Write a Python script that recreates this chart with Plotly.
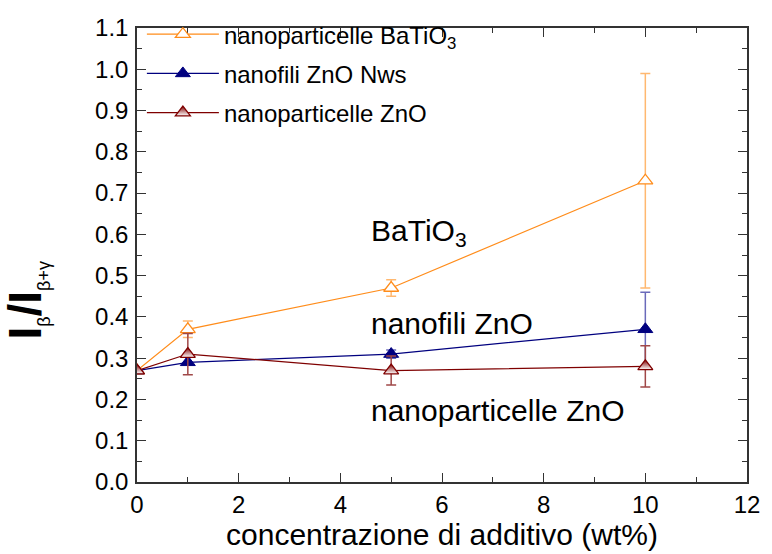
import plotly.graph_objects as go

# additive concentration (wt%)
conc = [0, 1, 5, 10]

# I_beta / I_(beta+gamma) for each filler, with error bars
batio3 = [0.27, 0.37, 0.47, 0.73]
batio3_err = [0.0, 0.02, 0.02, 0.26]

zno_nw = [0.27, 0.29, 0.31, 0.37]
zno_nw_err = [0.0, 0.0, 0.01, 0.09]

zno_np = [0.27, 0.31, 0.27, 0.28]
zno_np_err = [0.0, 0.05, 0.035, 0.05]

names = ["nanoparticelle BaTiO<sub>3</sub>", "nanofili ZnO Nws", "nanoparticelle ZnO"]

FONT = "Arial, Liberation Sans, sans-serif"

fig = go.Figure()

fig.add_trace(go.Scatter(
    x=conc, y=batio3, name=names[0], mode="lines+markers", legendgroup="a",
    line=dict(color="#FF8C1A", width=1.2),
    marker=dict(symbol="triangle-up", size=13, color="white",
                line=dict(color="#FF8C1A", width=1.3)),
    error_y=dict(type="data", array=batio3_err, color="#FFB870",
                 thickness=1.5, width=5),
))
fig.add_trace(go.Scatter(
    x=conc, y=zno_nw, name=names[1], mode="lines+markers", legendgroup="b",
    line=dict(color="#00007F", width=1.2),
    marker=dict(symbol="triangle-up", size=13, color="#00007F",
                line=dict(color="#00007F", width=1.0)),
    error_y=dict(type="data", array=zno_nw_err, color="#6A6ABA",
                 thickness=1.5, width=5),
))
fig.add_trace(go.Scatter(
    x=conc, y=zno_np, name=names[2], mode="lines+markers", legendgroup="c",
    line=dict(color="#7F0000", width=1.2),
    marker=dict(symbol="triangle-up", size=13, color="#7F0000",
                gradient=dict(type="vertical", color="white"),
                line=dict(color="#7F0000", width=1.3)),
    error_y=dict(type="data", array=zno_np_err, color="#A04848",
                 thickness=1.5, width=5),
))

# curve labels inside the plot
labels = [
    (4.57, 0.605, "BaTiO<sub>3</sub>"),
    (4.57, 0.385, "nanofili ZnO"),
    (4.57, 0.173, "nanoparticelle ZnO"),
]
for x, y, t in labels:
    fig.add_annotation(x=x, y=y, text=t, showarrow=False, xanchor="left",
                       yanchor="middle", font=dict(family=FONT, size=30, color="black"))

# y-axis title with subscripts
fig.add_annotation(
    xref="paper", yref="paper", x=-0.18, y=0.40, textangle=-90,
    xanchor="center", yanchor="middle",
    text="<b>I</b><sub><span style='font-size:18px'>β</span></sub><b>/I</b>"
         "<sub><span style='font-size:18px'>β+γ</span></sub>",
    showarrow=False, font=dict(family=FONT, size=46, color="black"),
)

axis_common = dict(
    showline=True, linecolor="#333333", linewidth=1.5, mirror="allticks",
    ticks="inside", ticklen=9, tickwidth=1.2, tickcolor="#333333",
    showgrid=False, zeroline=False,
    tickfont=dict(family=FONT, size=24, color="black"),
)

fig.update_xaxes(
    range=[0, 12], dtick=2, tick0=0,
    minor=dict(ticks="inside", ticklen=5, dtick=1, tickcolor="#333333"),
    title=dict(text="concentrazione di additivo (wt%)",
               font=dict(family=FONT, size=30, color="black"), standoff=2),
    **axis_common,
)
fig.update_yaxes(
    range=[0, 1.1], dtick=0.1, tick0=0, tickformat=".1f",
    minor=dict(ticks="inside", ticklen=5, dtick=0.05, tickcolor="#333333"),
    ticklabelstandoff=2,
    **axis_common,
)

fig.update_layout(
    width=772, height=554,
    margin=dict(l=137, r=14, t=24, b=72),
    paper_bgcolor="white", plot_bgcolor="white",
    legend=dict(x=0.008, y=1.035, xanchor="left", yanchor="top",
                bgcolor="rgba(0,0,0,0)", font=dict(family=FONT, size=24, color="black"),
                tracegroupgap=5, itemwidth=72),
)

fig.write_html("out.html")
